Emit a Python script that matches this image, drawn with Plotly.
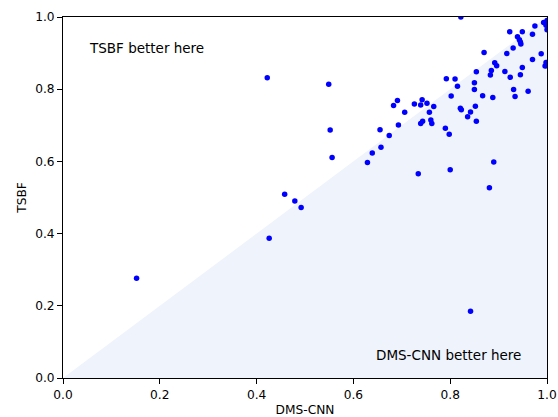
import plotly.graph_objects as go

# DMS-CNN (x) vs TSBF (y) scores
dms_cnn = [0.822, 0.923, 0.949, 0.975, 0.993, 0.998, 1.0, 1.0, 0.970, 0.939, 0.943, 0.945, 0.946,
           0.930, 0.917, 0.870, 0.988, 0.970, 0.998, 0.996, 0.892, 0.896, 0.885, 0.883, 0.913,
           0.924, 0.949, 0.945, 0.854, 0.850, 0.850, 0.867, 0.888, 0.931, 0.934, 0.961, 0.792,
           0.810, 0.815, 0.802, 0.821, 0.823, 0.852, 0.842, 0.836, 0.854, 0.691, 0.683, 0.706,
           0.726, 0.739, 0.742, 0.752, 0.766, 0.757, 0.760, 0.762, 0.743, 0.739, 0.693, 0.790,
           0.798, 0.674, 0.655, 0.657, 0.734, 0.800, 0.890, 0.881, 0.422, 0.549, 0.552, 0.556,
           0.639, 0.629, 0.458, 0.479, 0.492, 0.152, 0.426, 0.842]
tsbf = [1.0, 0.959, 0.959, 0.975, 0.985, 0.977, 0.99, 0.965, 0.952, 0.945, 0.937, 0.931, 0.925,
        0.914, 0.899, 0.902, 0.898, 0.882, 0.874, 0.864, 0.873, 0.865, 0.852, 0.839, 0.849,
        0.833, 0.860, 0.840, 0.848, 0.818, 0.799, 0.782, 0.777, 0.799, 0.780, 0.794, 0.829,
        0.828, 0.808, 0.781, 0.747, 0.743, 0.753, 0.737, 0.724, 0.711, 0.769, 0.755, 0.736,
        0.759, 0.756, 0.771, 0.761, 0.752, 0.736, 0.715, 0.705, 0.711, 0.705, 0.701, 0.692,
        0.675, 0.672, 0.688, 0.639, 0.566, 0.577, 0.598, 0.527, 0.832, 0.814, 0.687, 0.611,
        0.623, 0.597, 0.509, 0.490, 0.472, 0.276, 0.387, 0.185]

# region where DMS-CNN is better (below the diagonal)
region_x = [0.0, 1.0, 1.0, 0.0]
region_y = [0.0, 0.0, 1.0, 0.0]

tick_vals = [0.0, 0.2, 0.4, 0.6, 0.8, 1.0]
tick_text = ["0.0", "0.2", "0.4", "0.6", "0.8", "1.0"]

fig = go.Figure()
fig.add_trace(go.Scatter(x=region_x, y=region_y, mode="lines", fill="toself",
                         fillcolor="#eef3fc", line=dict(width=0), hoverinfo="skip",
                         showlegend=False))
fig.add_trace(go.Scatter(x=dms_cnn, y=tsbf, mode="markers",
                         marker=dict(color="#0000ff", size=5.5, line=dict(width=0)),
                         showlegend=False, cliponaxis=True))

fig.add_annotation(x=0.05, y=0.913, text="TSBF better here", showarrow=False,
                   xanchor="left", yanchor="middle", font=dict(size=13.5, color="black"))
fig.add_annotation(x=0.951, y=0.063, text="DMS-CNN better here", showarrow=False,
                   xanchor="right", yanchor="middle", font=dict(size=13.5, color="black"))

axis_common = dict(range=[0, 1], tickvals=tick_vals, ticktext=tick_text, ticks="outside",
                   ticklen=5, tickcolor="black", tickwidth=1, showline=True, linecolor="black",
                   linewidth=1, mirror=True, showgrid=False, zeroline=False, automargin=False,
                   tickfont=dict(size=12.2, color="black"))
fig.update_xaxes(**axis_common, title=dict(text="DMS-CNN", font=dict(size=12.2, color="black"),
                                           standoff=5))
fig.update_yaxes(**axis_common, title=dict(text="TSBF", font=dict(size=12.2, color="black"),
                                           standoff=5))

fig.update_layout(width=558, height=417, margin=dict(l=63, r=11, t=17, b=39),
                  plot_bgcolor="white", paper_bgcolor="white",
                  font=dict(family="DejaVu Sans", color="black"))

fig.write_html("out.html")
